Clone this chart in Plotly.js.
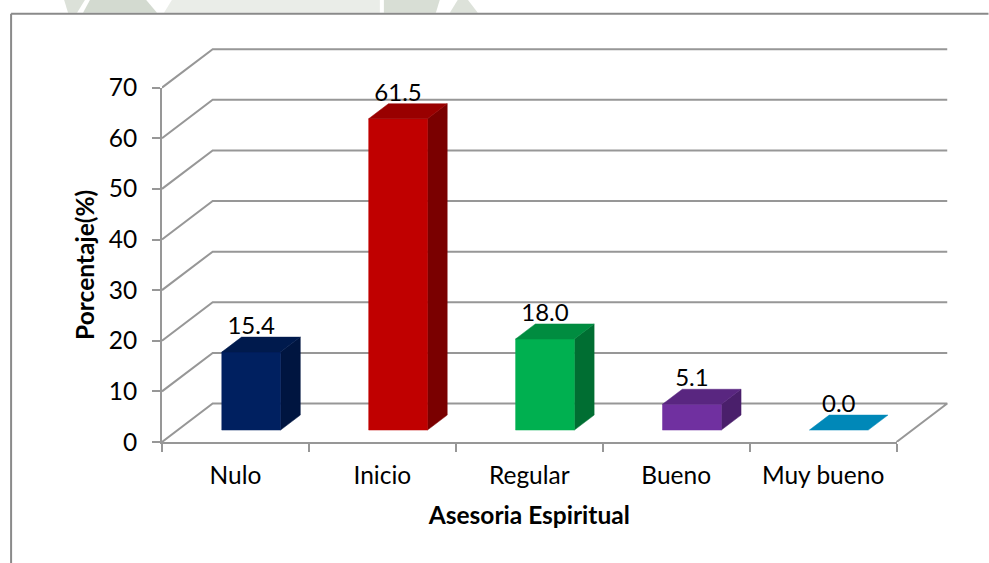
<!DOCTYPE html>
<html>
<head>
<meta charset="utf-8">
<script src="https://cdn.plot.ly/plotly-3.0.1.min.js"></script>
<style>html,body{margin:0;padding:0;background:#fff;overflow:hidden}</style>
</head>
<body>
<div id="chart" style="width:989px;height:563px"></div>
<script>
// Data
const categories = ["Nulo", "Inicio", "Regular", "Bueno", "Muy bueno"];
const values = [15.4, 61.5, 18.0, 5.1, 0.0];
const yTicks = [0, 10, 20, 30, 40, 50, 60, 70];
const frontColors = ["#002060", "#C00000", "#00B050", "#7030A0", "#0088B8"];
const topColors = ["#001A4D", "#990000", "#008C40", "#592680", "#0088B8"];
const sideColors = ["#001540", "#7A0000", "#006E32", "#4A1F6B", "#006A90"];

// 3D-look projection (axis units)
const DX = 0.345, DY = 7.6;          // floor depth
const BAR_L = 0.30, BAR_W = 0.40;    // bar position in a category slot
const D0 = 0.31, D1 = 0.70;          // bar front / back depth
const GRID = "#979797";
const px = (u, d) => u + d * DX;
const py = (v, d) => v + d * DY;

const traces = [];
const nCat = categories.length;

// gridlines: wall and side of the floor
yTicks.forEach(v => {
  traces.push({
    x: v === 0 ? [px(0,0), px(0,1), px(nCat,1), px(nCat,0)] : [px(0,0), px(0,1), px(nCat,1)],
    y: v === 0 ? [py(v,0), py(v,1), py(v,1), py(v,0)] : [py(v,0), py(v,1), py(v,1)],
    mode: "lines", line: {color: GRID, width: 2, simplify: false},
    hoverinfo: "skip", showlegend: false
  });
});

function face(xs, ys, color) {
  traces.push({x: xs, y: ys, mode: "lines", fill: "toself", fillcolor: color,
    line: {color: color, width: 0.5}, hoverinfo: "skip", showlegend: false});
}

// bars
values.forEach((v, i) => {
  const l = i + BAR_L, r = l + BAR_W;
  if (v > 0) {
    face([px(r,D0),px(r,D1),px(r,D1),px(r,D0),px(r,D0)],
         [py(0,D0),py(0,D1),py(v,D1),py(v,D0),py(0,D0)], sideColors[i]);
    face([px(l,D0),px(r,D0),px(r,D0),px(l,D0),px(l,D0)],
         [py(0,D0),py(0,D0),py(v,D0),py(v,D0),py(0,D0)], frontColors[i]);
  }
  face([px(l,D0),px(r,D0),px(r,D1),px(l,D1),px(l,D0)],
       [py(v,D0),py(v,D0),py(v,D1),py(v,D1),py(v,D0)], topColors[i]);
});

// data labels
traces.push({
  x: values.map((v, i) => px(i + BAR_L + BAR_W / 2, D0)),
  y: values.map(v => py(v, D1) + 1.8),
  text: values.map(v => v.toFixed(1)),
  mode: "text", textposition: "middle center",
  textfont: {family: "Lato", size: 24, color: "#000"},
  hoverinfo: "skip", showlegend: false, cliponaxis: false
});

// carrier for the front axes
traces.push({x: [0], y: [0], xaxis: "x2", yaxis: "y2", mode: "none", hoverinfo: "skip", showlegend: false});

// Layout geometry in pixels
const W = 989, H = 563, L = 162, PXU = 147, PYU = 5.06, Y0 = 442;
const xMax = 5.5, yMax = 80;
const plotW = xMax * PXU, plotH = yMax * PYU;
const pxX = p => (p - L) / plotW;
const pxY = p => (Y0 - p) / plotH;

function wm(pts, color) {
  const path = pts.map((p, i) => (i ? "L" : "M") + pxX(p[0]) + "," + pxY(p[1])).join(" ") + " Z";
  return {type: "path", xref: "paper", yref: "paper", layer: "below", path: path,
    fillcolor: color, line: {width: 0}};
}
const border = "#8A8A8A";
const shapes = [
  wm([[68,13],[77,13],[85,0],[64,0]], "#DCE1D9"),
  wm([[83,13],[157,13],[146,0],[90,0]], "#D3DAD0"),
  wm([[164,13],[380,13],[380,0],[172,0]], "#EAEDE8"),
  wm([[384,13],[436,13],[440,0],[384,0]], "#D8DED5"),
  wm([[450,13],[478,13],[468,0],[458,0]], "#DDE2DA"),
  {type: "line", xref: "paper", yref: "paper", x0: pxX(11), x1: pxX(11), y0: pxY(14), y1: pxY(563), line: {color: border, width: 2}},
  {type: "line", xref: "paper", yref: "paper", x0: pxX(11), x1: pxX(989), y0: pxY(14), y1: pxY(14), line: {color: border, width: 2}}
];

const axisFont = {family: "Lato", size: 24.5, color: "#000"};
const layout = {
  width: W, height: H,
  margin: {l: L, r: W - L - plotW, t: Y0 - plotH, b: H - Y0, pad: 0},
  paper_bgcolor: "#fff", plot_bgcolor: "rgba(0,0,0,0)",
  showlegend: false, shapes: shapes,
  xaxis: {range: [0, xMax], visible: false, fixedrange: true},
  yaxis: {range: [0, yMax], visible: false, fixedrange: true},
  xaxis2: {
    domain: [0, 5 / xMax], range: [0, 5], anchor: "y2", fixedrange: true,
    tickmode: "array", tickvals: categories.map((c, i) => i + 0.5), ticktext: categories,
    ticks: "", tickfont: axisFont, showgrid: false, zeroline: false,
    showline: true, linecolor: GRID, linewidth: 2, ticklabelstandoff: 11,
    minor: {tickmode: "array", tickvals: [0, 1, 2, 3, 4, 5], ticks: "outside", ticklen: 8, tickwidth: 2, tickcolor: GRID, showgrid: false},
    title: {text: "<b>Asesoria Espiritual</b>", font: {family: "Lato", size: 24.5, color: "#000"}, standoff: 18}
  },
  yaxis2: {
    domain: [0, 70 / yMax], range: [0, 70], anchor: "x2", fixedrange: true,
    tickmode: "array", tickvals: yTicks, ticks: "outside", ticklen: 8, tickwidth: 2, tickcolor: GRID,
    tickfont: axisFont, showgrid: false, zeroline: false,
    showline: true, linecolor: GRID, linewidth: 2, ticklabelstandoff: 10,
    title: {text: "<b>Porcentaje(%)</b>", font: {family: "Lato", size: 24.5, color: "#000"}, standoff: 7}
  }
};

Plotly.newPlot("chart", traces, layout, {displayModeBar: false, staticPlot: true});
</script>
</body>
</html>
